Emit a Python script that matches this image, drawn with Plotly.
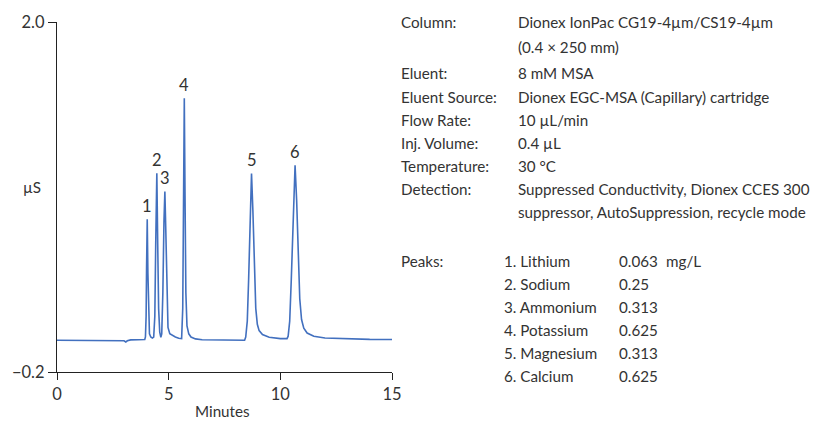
import plotly.graph_objects as go

# Chromatogram trace: retention time (min) and conductivity (µS)
time_min = [0.0, 1.0, 2.0, 2.9, 3.0, 3.08, 3.15, 3.3, 3.6, 3.93,
            3.96, 3.99, 4.01, 4.04, 4.07, 4.10, 4.14, 4.20, 4.27,
            4.33, 4.38, 4.42, 4.47, 4.51, 4.55, 4.60, 4.65,
            4.69, 4.74, 4.79, 4.83, 4.87, 4.92, 4.97, 5.05, 5.15, 5.30, 5.45, 5.58,
            5.63, 5.67, 5.70, 5.73, 5.77, 5.82, 5.90, 6.00, 6.20, 6.50, 7.0, 7.5, 8.0, 8.40,
            8.45, 8.52, 8.58, 8.64, 8.71, 8.77, 8.83, 8.90, 8.97, 9.05, 9.20, 9.50, 10.0, 10.30,
            10.35, 10.42, 10.49, 10.57, 10.66, 10.73, 10.80, 10.87, 10.95, 11.05, 11.20, 11.50,
            12.0, 13.0, 14.0, 14.8, 15.0]
signal_us = [0.0, 0.0, 0.0, 0.0, -0.004, -0.011, -0.004, 0.002, 0.003, 0.004,
             0.02, 0.15, 0.45, 0.76, 0.42, 0.12, 0.04, 0.02, 0.013,
             0.02, 0.15, 0.6, 1.05, 0.6, 0.2, 0.05, 0.018,
             0.04, 0.3, 0.75, 0.935, 0.7, 0.25, 0.08, 0.04, 0.03, 0.02, 0.012, 0.01,
             0.2, 0.9, 1.52, 0.95, 0.3, 0.09, 0.04, 0.02, 0.008, 0.003, 0.001, 0.0, -0.002, 0.0,
             0.02, 0.12, 0.38, 0.75, 1.048, 0.82, 0.45, 0.2, 0.1, 0.06, 0.035, 0.018, 0.01, 0.01,
             0.025, 0.12, 0.38, 0.78, 1.10, 0.88, 0.52, 0.26, 0.13, 0.075, 0.045, 0.025,
             0.014, 0.008, 0.005, 0.004, 0.004]

# Peak numbering (apex positions)
peak_ids = ["1", "2", "3", "4", "5", "6"]
peak_rt = [4.04, 4.47, 4.83, 5.70, 8.71, 10.66]
peak_height = [0.76, 1.05, 0.935, 1.52, 1.048, 1.10]

# Axis ticks
x_ticks = [0, 5, 10, 15]
y_ticks = [-0.2, 2.0]
y_tick_text = ["\u22120.2", "2.0"]

# Method conditions
cond_labels = ["Column:", "", "Eluent:", "Eluent Source:", "Flow Rate:",
               "Inj. Volume:", "Temperature:", "Detection:", ""]
cond_values = ["Dionex IonPac CG19-4\u00b5m/CS19-4\u00b5m", "(0.4 \u00d7 250 mm)",
               "8 mM MSA", "Dionex EGC-MSA (Capillary) cartridge", "10 \u00b5L/min",
               "0.4 \u00b5L", "30 \u00b0C", "Suppressed Conductivity, Dionex CCES 300",
               "suppressor, AutoSuppression, recycle mode"]

# Peak table
peak_names = ["1. Lithium", "2. Sodium", "3. Ammonium", "4. Potassium",
              "5. Magnesium", "6. Calcium"]
peak_conc = ["0.063", "0.25", "0.313", "0.625", "0.313", "0.625"]
conc_unit = "mg/L"

FONT = "Lato, Roboto, Liberation Sans, sans-serif"
TXT = "#333333"
FS = 15.2
W, H = 820, 423
L, R, T, B = 57, 392, 16, 372   # plot box in pixels


def px(x):
    return (x - L) / (R - L)


def py(y):
    return (B - y) / (B - T)


def label(x, y, text, anchor="left", size=FS):
    return dict(x=px(x), y=py(y), xref="paper", yref="paper", text=text,
                showarrow=False, xanchor=anchor, yanchor="middle",
                font=dict(family=FONT, size=size, color=TXT))


fig = go.Figure()
fig.add_trace(go.Scatter(x=time_min, y=signal_us, mode="lines",
                         line=dict(color="#4270bf", width=1.6),
                         hoverinfo="skip", showlegend=False))

ann = []
for pid, rt, h in zip(peak_ids, peak_rt, peak_height):
    ann.append(dict(x=rt, y=h, xref="x", yref="y", text=pid, showarrow=False,
                    xanchor="center", yanchor="bottom", yshift=1,
                    font=dict(family=FONT, size=16.5, color=TXT)))

ann.append(label(32, 184, "\u00b5S", "center"))
ann.append(label(222, 411.5, "Minutes", "center"))

# row centres for the conditions block (pixels from top)
cond_y = [15.5, 41, 68, 92, 115.5, 139, 162.5, 186, 209.5]
for yy, lab, val in zip(cond_y, cond_labels, cond_values):
    if lab:
        ann.append(label(399, yy, lab))
    ann.append(label(516, yy, val))

py0 = 259.5
ann.append(label(399, py0, "Peaks:"))
for i, (nm, cc) in enumerate(zip(peak_names, peak_conc)):
    yy = py0 + i * 23.3
    ann.append(label(502, yy, nm))
    ann.append(label(617, yy, cc))
    if i == 0:
        ann.append(label(664, yy, conc_unit))

fig.update_layout(
    width=W, height=H,
    margin=dict(l=L, r=W - R, t=T, b=H - B, pad=0),
    paper_bgcolor="white", plot_bgcolor="white",
    annotations=ann,
    xaxis=dict(range=[0, 15], tickvals=x_ticks, ticks="outside", ticklen=7,
               tickcolor="#222222", showline=True, linecolor="#222222", linewidth=1.3,
               showgrid=False, zeroline=False,
               tickfont=dict(family=FONT, size=16.5, color=TXT)),
    yaxis=dict(range=[-0.2, 2.0], tickvals=y_ticks, ticktext=y_tick_text,
               ticks="outside", ticklen=8, tickcolor="#222222",
               showline=True, linecolor="#222222", linewidth=1.3,
               showgrid=False, zeroline=False,
               tickfont=dict(family=FONT, size=16.5, color=TXT)),
)

fig.write_html("out.html")
